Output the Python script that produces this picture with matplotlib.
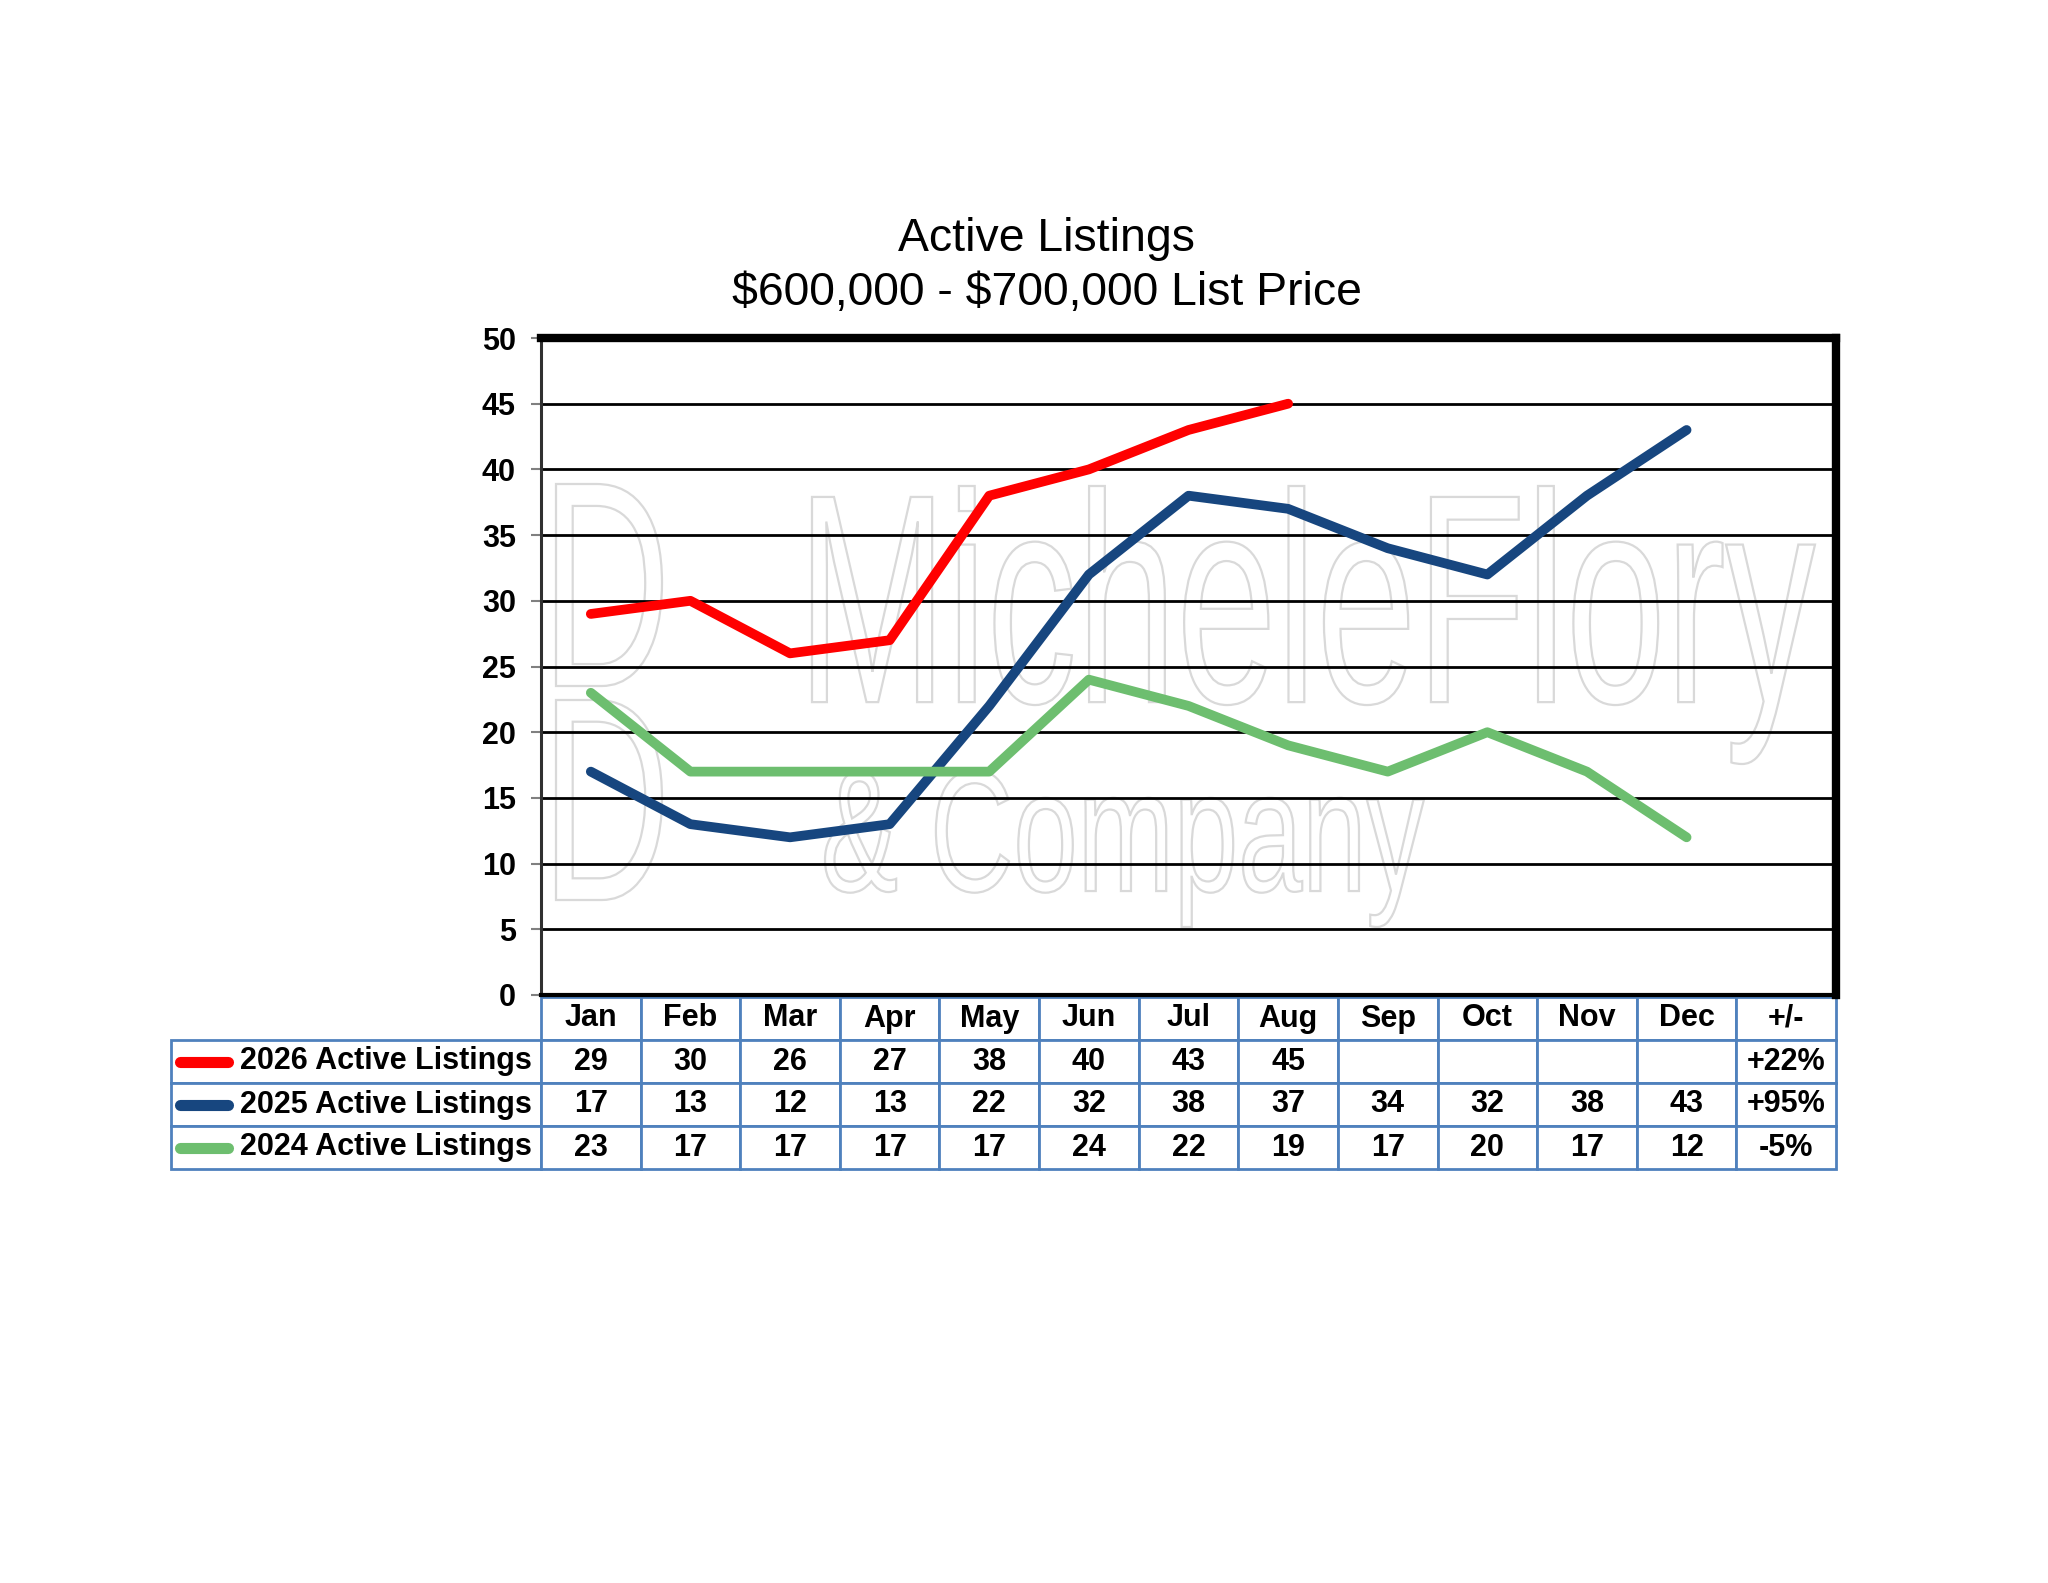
import matplotlib
matplotlib.use('Agg')
import matplotlib.pyplot as plt
from matplotlib.table import Table
from matplotlib.textpath import TextPath
from matplotlib.patches import PathPatch
from matplotlib.font_manager import FontProperties
from matplotlib.transforms import Affine2D
from matplotlib.lines import Line2D

months = ['Jan', 'Feb', 'Mar', 'Apr', 'May', 'Jun', 'Jul', 'Aug', 'Sep', 'Oct', 'Nov', 'Dec']
listings_2026 = [29, 30, 26, 27, 38, 40, 43, 45]
listings_2025 = [17, 13, 12, 13, 22, 32, 38, 37, 34, 32, 38, 43]
listings_2024 = [23, 17, 17, 17, 17, 24, 22, 19, 17, 20, 17, 12]
change = ['+22%', '+95%', '-5%']
series_names = ['2026 Active Listings', '2025 Active Listings', '2024 Active Listings']
colors = ['#FF0000', '#17467F', '#6DBE6F']

plt.rcParams['font.family'] = ['Liberation Sans', 'DejaVu Sans']

W, H = 2048, 1583
AX_L, AX_R, AX_T, AX_B = 541, 1836, 338, 995
fig = plt.figure(figsize=(W / 100, H / 100), dpi=100)
ax = fig.add_axes([AX_L / W, 1 - AX_B / H, (AX_R - AX_L) / W, (AX_B - AX_T) / H])

# faint watermark behind the grid
def watermark(text, x0, x1, top, bottom):
    tp = TextPath((0, 0), text, size=1, prop=FontProperties(family='Liberation Sans'))
    ext = tp.get_extents()
    fx0, fx1 = x0 / W, x1 / W
    fy0, fy1 = 1 - bottom / H, 1 - top / H
    tr = (Affine2D().translate(-ext.x0, -ext.y0)
          .scale((fx1 - fx0) / ext.width, (fy1 - fy0) / ext.height)
          .translate(fx0, fy0))
    p = PathPatch(tr.transform_path(tp), facecolor='none', edgecolor='#d9d9d9',
                  lw=1.6, transform=fig.transFigure, zorder=0.2)
    ax.add_artist(p)

watermark('MicheleFlory', 812, 1815, 486, 764)
watermark('& Company', 825, 1424, 770, 927)
watermark('D', 556, 662, 484, 686)
watermark('D', 556, 662, 700, 900)

all_series = [listings_2026, listings_2025, listings_2024]
for vals, c in zip(all_series, colors):
    ax.plot(range(len(vals)), vals, color=c, lw=7, solid_joinstyle='round',
            solid_capstyle='round', zorder=3)

ax.set_xlim(-0.5, 12.5)
ax.set_ylim(0, 50)
ax.set_xticks([])
ax.set_yticks(range(0, 51, 5))
ax.tick_params(axis='y', length=7, width=1.5, color='gray', pad=11, labelsize=22)
for lab in ax.get_yticklabels():
    lab.set_fontweight('bold')
ax.yaxis.grid(True, color='black', lw=2)
ax.set_axisbelow(True)

ax.spines['top'].set_linewidth(6)
ax.spines['right'].set_linewidth(6)
ax.spines['left'].set_linewidth(2.2)
ax.spines['left'].set_color('#303030')
ax.spines['bottom'].set_linewidth(3)

# data table under the plot (bbox covers the month grid, labels hang to the left)
ax_w, ax_h = AX_R - AX_L, AX_B - AX_T
lab_w = (AX_L - 171) / ax_w
col_w = 1 / 13
bb_top = (AX_B - 997) / ax_h
bb_h = (1169 - 997) / ax_h
tbl = Table(ax, bbox=[0, bb_top - bb_h, 1, bb_h])
for j, m in enumerate(months + ['+/-']):
    tbl.add_cell(0, j, col_w, 1, text=m, loc='center')
for i, (name, vals, ch) in enumerate(zip(series_names, all_series, change), start=1):
    tbl.add_cell(i, -1, lab_w, 1, text=name, loc='right')
    row = [str(v) for v in vals] + [''] * (12 - len(vals)) + [ch]
    for j, t in enumerate(row):
        tbl.add_cell(i, j, col_w, 1, text=t, loc='center')
tbl.auto_set_font_size(False)
tbl.set_fontsize(22)
for (r, c), cell in tbl.get_celld().items():
    cell.set_edgecolor('#4F81BD')
    cell.set_linewidth(2)
    cell.get_text().set_fontweight('bold')
    if c == -1:
        cell.PAD = 0.025
ax.add_table(tbl)

# legend swatches in the row label cells
row_h = bb_h / 4
for i, c in enumerate(colors, start=1):
    yc = bb_top - (i + 0.5) * row_h
    ax.add_line(Line2D([(180 - AX_L) / ax_w, (228 - AX_L) / ax_w], [yc, yc], color=c,
                       lw=8, solid_capstyle='round', transform=ax.transAxes, clip_on=False))

fig.text(0.511, 1 - 266 / H, 'Active Listings\n\\$600,000 - \\$700,000 List Price',
         ha='center', va='center', fontsize=33.4, linespacing=1.3)

fig.savefig('out.png', dpi=100)
